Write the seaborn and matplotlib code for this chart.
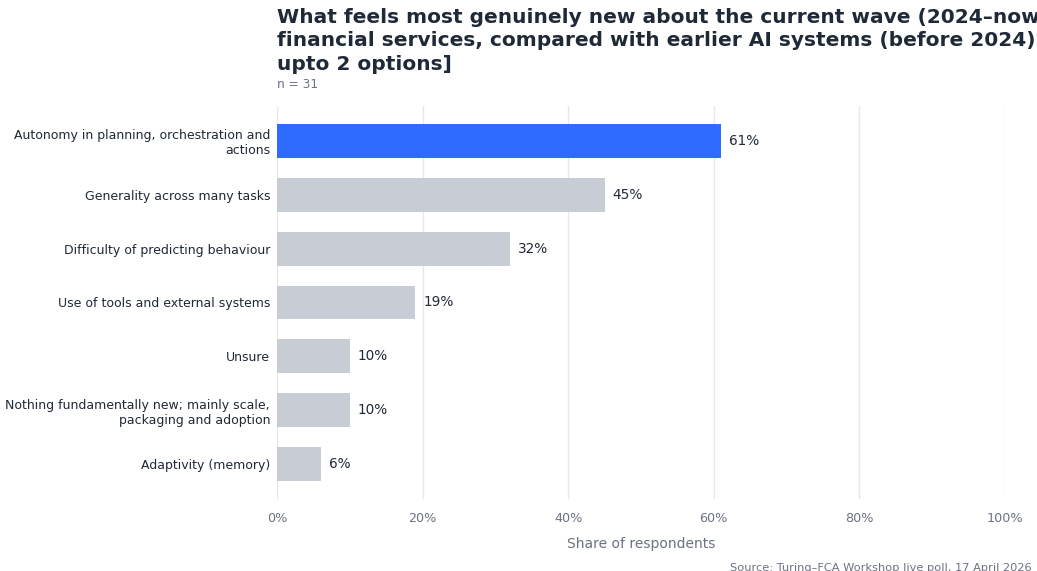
import matplotlib
matplotlib.use("Agg")
import matplotlib.pyplot as plt
import seaborn as sns
import pandas as pd

categories = [
    "Autonomy in planning, orchestration and\nactions",
    "Generality across many tasks",
    "Difficulty of predicting behaviour",
    "Use of tools and external systems",
    "Unsure",
    "Nothing fundamentally new; mainly scale,\npackaging and adoption",
    "Adaptivity (memory)",
]
shares = [61, 45, 32, 19, 10, 10, 6]
x_ticks = [0, 20, 40, 60, 80, 100]

title = ("What feels most genuinely new about the current wave (2024\u2013now) of AI in\n"
         "financial services, compared with earlier AI systems (before 2024)? [Select\n"
         "upto 2 options]")
subtitle = "n = 31"
source = "Source: Turing\u2013FCA Workshop live poll, 17 April 2026"

sns.set_theme(style="white")
plt.rcParams["font.family"] = ["DejaVu Sans"]

df = pd.DataFrame({"option": categories, "share": shares})
top = df["share"].max()
palette = {c: ("#2f6bff" if s == top else "#c8ccd5") for c, s in zip(categories, shares)}

fig = plt.figure(figsize=(10.37, 5.71), dpi=100)
ax = fig.add_axes([277 / 1037, 1 - 499 / 571, (1005 - 277) / 1037, (499 - 106) / 571])

sns.barplot(data=df, y="option", x="share", hue="option", palette=palette,
            width=0.63, legend=False, ax=ax, saturation=1, linewidth=0)

ax.set_xlim(0, 100)
ax.set_ylim(6.65, -0.65)
ax.set_xticks(x_ticks)
ax.set_xticklabels([f"{t}%" for t in x_ticks], color="#6b7280", fontsize=9.2)
ax.tick_params(axis="x", length=0, pad=9)
ax.tick_params(axis="y", length=0, pad=5, labelsize=9.0, labelcolor="#1f2937")
ax.xaxis.grid(True, color="#e6e8ec", linewidth=1)
ax.set_axisbelow(True)
for sp in ax.spines.values():
    sp.set_visible(False)
ax.set_ylabel("")
ax.set_xlabel("Share of respondents", color="#6b7280", fontsize=10, labelpad=9)

for i, s in enumerate(shares):
    ax.text(s + 1.1, i, f"{s}%", va="center", ha="left", fontsize=9.8, color="#1f2937")

fig.text(277 / 1037, 1 - 8 / 571, title, ha="left", va="top", fontsize=14.5,
         fontweight="bold", color="#1f2937", linespacing=1.3)
fig.text(277 / 1037, 1 - 84 / 571, subtitle, ha="left", va="center", fontsize=8.7,
         color="#6b7280")
fig.text(1032 / 1037, 1 - 568 / 571, source, ha="right", va="center", fontsize=8.2,
         color="#6b7280")

fig.savefig("out.png", dpi=100)
